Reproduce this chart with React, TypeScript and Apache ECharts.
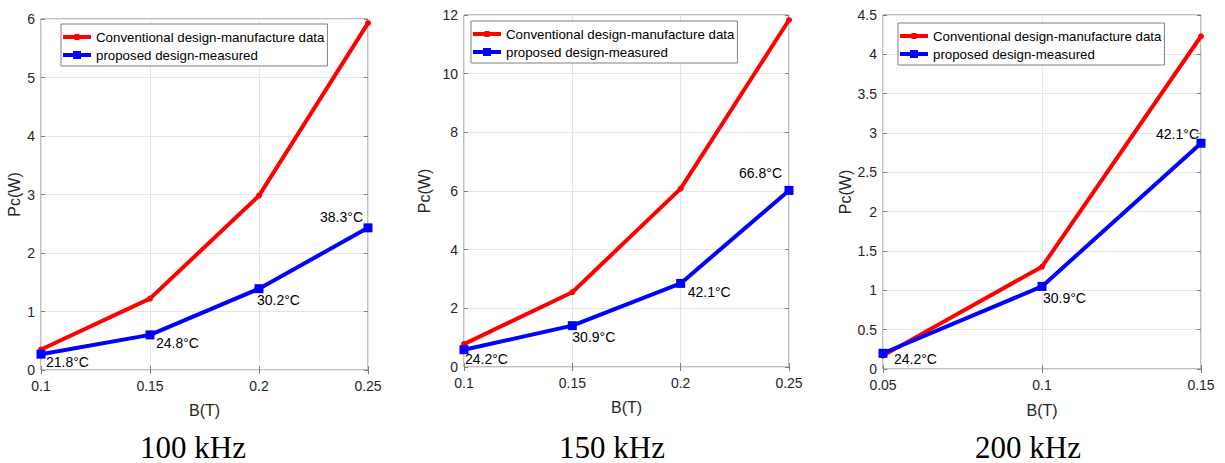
import React, { useEffect, useRef } from "react";
import * as echarts from "echarts";

// ---- data ----
const B100 = [0.1, 0.15, 0.2, 0.25];
const conv100 = [0.35, 1.22, 2.98, 5.93];
const prop100 = [0.27, 0.6, 1.39, 2.43];
const temp100 = ["21.8°C", "24.8°C", "30.2°C", "38.3°C"];

const B150 = [0.1, 0.15, 0.2, 0.25];
const conv150 = [0.78, 2.55, 6.08, 11.83];
const prop150 = [0.59, 1.41, 2.85, 6.02];
const temp150 = ["24.2°C", "30.9°C", "42.1°C", "66.8°C"];

const B200 = [0.05, 0.1, 0.15];
const conv200 = [0.17, 1.3, 4.23];
const prop200 = [0.2, 1.05, 2.87];
const temp200 = ["24.2°C", "30.9°C", "42.1°C"];

const captions = ["100 kHz", "150 kHz", "200 kHz"];
const convName = "Conventional design-manufacture data";
const propName = "proposed design-measured";
const xTitle = "B(T)";
const yTitle = "Pc(W)";

// ---- layout / style ----
const panels = [
  {
    B: B100, conv: conv100, prop: prop100, temps: temp100, caption: captions[0],
    grid: { left: 41, top: 19, width: 327, height: 351 },
    x: { min: 0.1, max: 0.25, interval: 0.05 },
    y: { min: 0, max: 6, interval: 1 },
    yNameGap: 19, xNameGap: 32,
    legend: { left: 61, top: 24 },
    capX: 193,
    labelPos: [
      { align: "left", offset: [5, 8] },
      { align: "left", offset: [6, 8] },
      { align: "left", offset: [-2, 11] },
      { align: "right", offset: [-5, -11] },
    ],
  },
  {
    B: B150, conv: conv150, prop: prop150, temps: temp150, caption: captions[1],
    grid: { left: 464, top: 15, width: 325, height: 352 },
    x: { min: 0.1, max: 0.25, interval: 0.05 },
    y: { min: 0, max: 12, interval: 2 },
    yNameGap: 32, xNameGap: 32,
    legend: { left: 471, top: 21 },
    capX: 612,
    labelPos: [
      { align: "left", offset: [1, 9] },
      { align: "left", offset: [0, 11] },
      { align: "left", offset: [7, 9] },
      { align: "right", offset: [-7, -17] },
    ],
  },
  {
    B: B200, conv: conv200, prop: prop200, temps: temp200, caption: captions[2],
    grid: { left: 883, top: 15, width: 318, height: 354 },
    x: { min: 0.05, max: 0.15, interval: 0.05 },
    y: { min: 0, max: 4.5, interval: 0.5 },
    yNameGap: 30, xNameGap: 33,
    legend: { left: 898, top: 23 },
    capX: 1028,
    labelPos: [
      { align: "left", offset: [11, 6] },
      { align: "left", offset: [1, 12] },
      { align: "right", offset: [-2, -9] },
    ],
  },
];

const FONT = "'Liberation Sans', Arial, sans-serif";
const AXIS_COLOR = "#808080";
const TEXT_COLOR = "#262626";
const GRID_COLOR = "#e6e6e6";

// legend icons: thick line with a small dot / square marker (bbox fixed to 28x14)
const ICON_CONV = "path://M0,0 M28,14 M0,5 H11.5 V4 H16.5 V5 H28 V9 H16.5 V10 H11.5 V9 H0 Z";
const ICON_PROP = "path://M0,0 M28,14 M0,5 H10 V3 H18 V5 H28 V9 H18 V11 H10 V9 H0 Z";

function buildOption() {
  const grid: any[] = [];
  const xAxis: any[] = [];
  const yAxis: any[] = [];
  const series: any[] = [];
  const legend: any[] = [];
  const graphic: any[] = [];

  panels.forEach((p, i) => {
    grid.push({
      ...p.grid,
      show: true,
      borderColor: AXIS_COLOR,
      borderWidth: 1,
      backgroundColor: "#fff",
    });
    const tick = { show: true, inside: true, length: 4, lineStyle: { color: AXIS_COLOR } };
    xAxis.push({
      type: "value", gridIndex: i, position: "bottom", ...p.x,
      name: xTitle, nameLocation: "middle", nameGap: p.xNameGap,
      nameTextStyle: { fontSize: 16, color: TEXT_COLOR, fontFamily: FONT },
      axisLine: { show: false },
      axisTick: tick,
      axisLabel: { fontSize: 14, color: TEXT_COLOR, fontFamily: FONT, margin: 9 },
      splitLine: { show: true, lineStyle: { color: GRID_COLOR, width: 1 } },
    });
    xAxis.push({
      type: "value", gridIndex: i, position: "top", ...p.x,
      axisLine: { show: false }, axisTick: tick,
      axisLabel: { show: false }, splitLine: { show: false },
    });
    yAxis.push({
      type: "value", gridIndex: i, position: "left", ...p.y,
      name: yTitle, nameLocation: "middle", nameGap: p.yNameGap,
      nameTextStyle: { fontSize: 16, color: TEXT_COLOR, fontFamily: FONT },
      axisLine: { show: false },
      axisTick: tick,
      axisLabel: { fontSize: 14, color: TEXT_COLOR, fontFamily: FONT, margin: 6 },
      splitLine: { show: true, lineStyle: { color: GRID_COLOR, width: 1 } },
    });
    yAxis.push({
      type: "value", gridIndex: i, position: "right", ...p.y,
      axisLine: { show: false }, axisTick: tick,
      axisLabel: { show: false }, splitLine: { show: false },
    });

    series.push({
      type: "line", name: convName, xAxisIndex: 2 * i, yAxisIndex: 2 * i,
      data: p.B.map((b, k) => [b, p.conv[k]]),
      symbol: "circle", symbolSize: 6,
      lineStyle: { color: "#ff0000", width: 4 },
      itemStyle: { color: "#ff0000" },
      z: 3,
    });
    series.push({
      type: "line", name: propName, xAxisIndex: 2 * i, yAxisIndex: 2 * i,
      data: p.B.map((b, k) => ({
        value: [b, p.prop[k]],
        label: {
          show: true,
          position: "inside",
          formatter: p.temps[k],
          align: p.labelPos[k].align,
          verticalAlign: "middle",
          offset: p.labelPos[k].offset,
          fontSize: 14,
          color: "#000",
          fontFamily: FONT,
        },
      })),
      symbol: "rect", symbolSize: 9,
      lineStyle: { color: "#0000ff", width: 4 },
      itemStyle: { color: "#0000ff" },
      z: 4,
    });

    legend.push({
      orient: "vertical",
      left: p.legend.left, top: p.legend.top,
      data: [
        { name: convName, icon: ICON_CONV },
        { name: propName, icon: ICON_PROP },
      ],
      backgroundColor: "#fff",
      borderColor: AXIS_COLOR, borderWidth: 1, borderRadius: 0,
      padding: [6, 3, 4, 2],
      itemGap: 4, itemWidth: 28, itemHeight: 14,
      selectedMode: false,
      textStyle: { fontSize: 13.3, color: "#000", fontFamily: FONT },
    });

    graphic.push({
      type: "text",
      x: p.capX, y: 447,
      style: {
        text: p.caption,
        fill: "#000",
        font: "31px 'Liberation Serif', 'Times New Roman', serif",
        textAlign: "center",
        textVerticalAlign: "middle",
      },
    });
  });

  return {
    animation: false,
    backgroundColor: "#fff",
    grid, xAxis, yAxis, series, legend, graphic,
  };
}

export default function App() {
  const ref = useRef<HTMLDivElement>(null);
  useEffect(() => {
    if (!ref.current) return;
    const chart = echarts.init(ref.current, undefined, { renderer: "svg" });
    chart.setOption(buildOption() as any);
    return () => chart.dispose();
  }, []);
  return (
    <div
      ref={ref}
      style={{ position: "fixed", left: 0, top: 0, width: 1225, height: 463 }}
    />
  );
}
